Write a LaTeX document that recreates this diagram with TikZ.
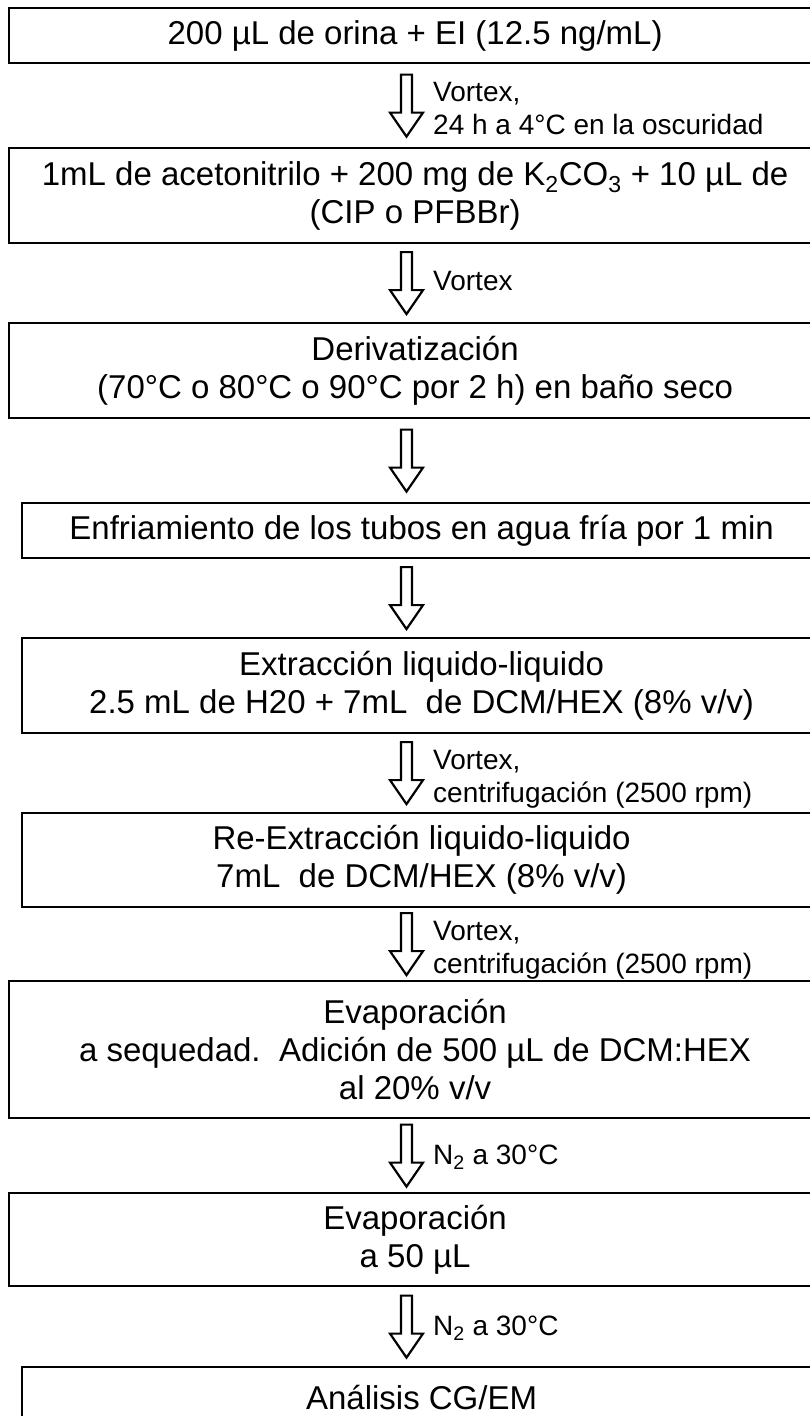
\documentclass[tikz,border=0pt]{standalone}
\usepackage{fontspec}
\setmainfont{Liberation Sans}
\usetikzlibrary{calc}
\begin{document}
\begin{tikzpicture}[x=1pt,y=-1pt,
  box/.style={draw=black, line width=2.2pt, rectangle, inner sep=0pt, anchor=north west, align=center,
    font=\fontsize{33}{38}\selectfont},
  lbl/.style={font=\fontsize{28}{33}\selectfont, anchor=base west, inner sep=0pt},
  blockarrow/.style={draw=black, line width=2.2pt, fill=white, line join=miter,
    to path={let \p1=(\tikztostart), \p2=(\tikztotarget), \p3=($(\p1)!0.5!(\p2)$) in
      (401pt,\y3+31pt) -- (412pt,\y3+31pt) -- (412pt,\y3-7pt) -- (423pt,\y3-7pt) --
      (406.5pt,\y3-31pt) -- (390pt,\y3-7pt) -- (401pt,\y3-7pt) -- cycle}}
]
\useasboundingbox (0,0) rectangle (809,1416);

\node[box, minimum width=812pt, minimum height=55pt] (b1) at (8,7) {200 µL de orina + EI (12.5 ng/mL)};
\node[box, minimum width=812pt, minimum height=95pt] (b2) at (8,147) {1mL de acetonitrilo + 200 mg de K\textsubscript{2}CO\textsubscript{3} + 10 µL de\\(CIP o PFBBr)};
\node[box, minimum width=812pt, minimum height=95pt] (b3) at (8,322) {Derivatización\\(70°C o 80°C o 90°C por 2 h) en baño seco};
\node[box, minimum width=799pt, minimum height=55pt] (b4) at (21,502) {Enfriamiento de los tubos en agua fría por 1 min};
\node[box, minimum width=799pt, minimum height=95pt] (b5) at (21,637) {Extracción liquido-liquido\\2.5 mL de H20 + 7mL\ \ de DCM/HEX (8\% v/v)};
\node[box, minimum width=799pt, minimum height=94pt] (b6) at (21,812) {Re-Extracción liquido-liquido\\7mL\ \ de DCM/HEX (8\% v/v)};
\node[box, minimum width=812pt, minimum height=137pt] (b7) at (8,980) {Evaporación\\a sequedad.\ \ Adición de 500 µL de DCM:HEX\\al 20\% v/v};
\node[box, minimum width=812pt, minimum height=93pt] (b8) at (8,1192) {Evaporación\\a 50 µL};
\node[box, minimum width=799pt, minimum height=60pt] (b9) at (21,1366) {Análisis CG/EM};

\draw[blockarrow] (b1.south) to (b2.north);
\draw[blockarrow] (b2.south) to (b3.north);
\draw[blockarrow] (b3.south) to (b4.north);
\draw[blockarrow] (b4.south) to (b5.north);
\draw[blockarrow] (b5.south) to (b6.north);
\draw[blockarrow] (b6.south) to (b7.north);
\draw[blockarrow] (b7.south) to (b8.north);
\draw[blockarrow] (b8.south) to (b9.north);

\node[lbl] (l1a) at (433,101.5) {Vortex,};
\node[lbl] (l1b) at (433,134.5) {24 h a 4°C en la oscuridad};
\node[lbl] (l2) at (433,290) {Vortex};
\node[lbl] (l5a) at (433,769) {Vortex,};
\node[lbl] (l5b) at (433,802) {centrifugación (2500 rpm)};
\node[lbl] (l6a) at (433,940) {Vortex,};
\node[lbl] (l6b) at (433,973) {centrifugación (2500 rpm)};
\node[lbl] (l7) at (433,1164.5) {N\textsubscript{2} a 30°C};
\node[lbl] (l8) at (433,1335.5) {N\textsubscript{2} a 30°C};
\end{tikzpicture}
\end{document}
